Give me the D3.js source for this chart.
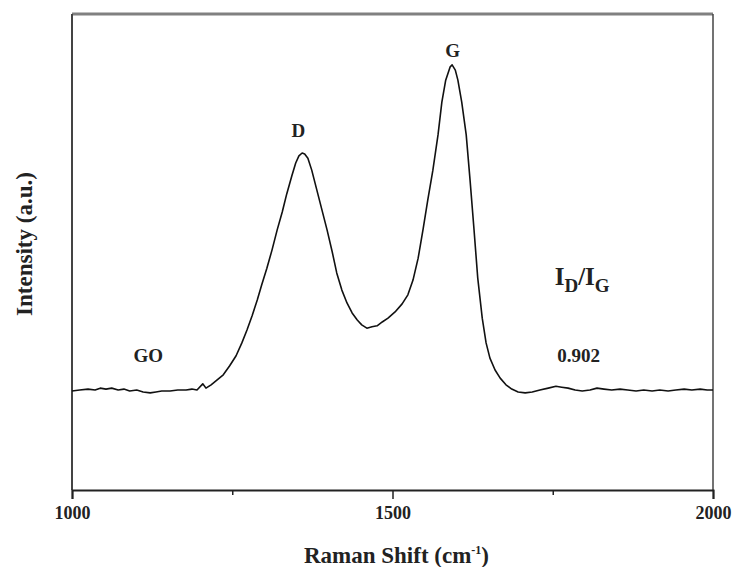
<!DOCTYPE html>
<html>
<head>
<meta charset="utf-8">
<script src="https://cdn.jsdelivr.net/npm/d3@7"></script>
<style>
  body { margin: 0; background: #fff; }
  text { font-family: "Liberation Serif", "DejaVu Serif", serif; font-weight: bold; }
</style>
</head>
<body>
<div id="my_dataviz"></div>
<script>
// Raman spectrum of GO
var shift = [1000,1012,1025,1036,1044,1053,1062,1072,1081,1090,1101,1111,1122,1131,1140,1153,1165,1178,1187,1195,
  1204,1209,1217,1226,1236,1246,1256,1265,1273,1281,1289,1296,1304,1312,1320,1328,1335,1343,1349,1354,
  1359,1363,1368,1374,1382,1390,1398,1406,1413,1421,1429,1437,1445,1452,1460,1468,1476,1484,1493,1504,
  1515,1524,1532,1540,1548,1555,1563,1571,1577,1583,1590,1593,1598,1602,1608,1615,1621,1627,1633,1640,
  1646,1652,1660,1668,1677,1686,1696,1707,1718,1730,1743,1755,1764,1774,1785,1796,1808,1819,1830,1842,
  1855,1867,1880,1892,1905,1917,1930,1942,1955,1967,1980,1991,2000];
var intensity = [208,210,212,210,214,212,214,210,212,208,210,206,204,206,208,208,210,210,212,210,
  223,214,221,231,242,261,282,309,336,366,399,431,466,504,546,584,622,660,687,702,
  708,706,697,672,630,588,546,500,456,420,393,372,357,347,340,343,345,353,361,374,
  391,410,441,487,550,609,672,746,815,861,889,893,882,861,815,746,651,550,445,361,
  309,277,252,235,221,212,206,204,206,210,214,218,216,214,210,208,210,214,212,210,
  212,210,208,210,208,210,208,210,212,210,212,210,210];

var xTicks = [1000, 1500, 2000];
var xMinorTicks = [1250, 1750];

// peak labels
var peakLabels = [
  {text: "D", x: 1353, y: 742},
  {text: "G", x: 1594, y: 910},
  {text: "GO", x: 1119, y: 269},
  {text: "0.902", x: 1757, y: 269}
];

var margin = {top: 14, right: 21, bottom: 77, left: 72},
    width = 734 - margin.left - margin.right,
    height = 567 - margin.top - margin.bottom;

var svg = d3.select("#my_dataviz")
            .append("svg")
              .attr("width", 734)
              .attr("height", 567)
            .append("g")
              .attr("transform", "translate(" + margin.left + "," + margin.top + ")");

var x = d3.scaleLinear().domain([1000, 2000]).range([0, width]);
var y = d3.scaleLinear().domain([0, 1000]).range([height, 0]);

var data = shift.map(function (s, i) { return {s: s, v: intensity[i]}; });

// frame: top (gray, thick), left, right
svg.append("line").attr("x1", 0).attr("x2", width).attr("y1", 0).attr("y2", 0)
   .attr("stroke", "#808080").attr("stroke-width", 3);
svg.append("line").attr("x1", 0).attr("x2", 0).attr("y1", 0).attr("y2", height)
   .attr("stroke", "#444").attr("stroke-width", 2);
svg.append("line").attr("x1", width).attr("x2", width).attr("y1", 0).attr("y2", height)
   .attr("stroke", "#444").attr("stroke-width", 1.5);

// x axis
var xAxis = svg.append("g")
   .attr("transform", "translate(0," + height + ")")
   .call(d3.axisBottom(x).tickValues(xTicks).tickSize(9).tickPadding(7).tickFormat(d3.format("d")));
xAxis.select(".domain").attr("stroke", "#222").attr("stroke-width", 2);
xAxis.selectAll(".tick line").attr("stroke", "#222").attr("stroke-width", 1.5);
xAxis.selectAll("text").style("font-size", "18px").attr("fill", "#222")
     .style("font-family", "'Liberation Serif', serif").style("font-weight", "bold");

svg.append("g").attr("transform", "translate(0," + height + ")")
   .call(d3.axisBottom(x).tickValues(xMinorTicks).tickSize(5).tickFormat(""))
   .call(function (g) { g.select(".domain").remove(); })
   .selectAll(".tick line").attr("stroke", "#222").attr("stroke-width", 1.5);

// spectrum
svg.append("path")
   .datum(data)
   .attr("fill", "none")
   .attr("stroke", "#111")
   .attr("stroke-width", 1.6)
   .attr("stroke-linejoin", "round")
   .attr("d", d3.line().x(function (d) { return x(d.s); }).y(function (d) { return y(d.v); }));

// labels
svg.selectAll(".peak")
   .data(peakLabels)
   .enter().append("text")
   .attr("x", function (d) { return x(d.x); })
   .attr("y", function (d) { return y(d.y); })
   .attr("text-anchor", function (d) { return d.text === "0.902" ? "start" : "middle"; })
   .style("font-size", "19px")
   .attr("fill", "#222")
   .text(function (d) { return d.text; });

var ratio = svg.append("text")
   .attr("x", x(1753))
   .attr("y", y(431))
   .style("font-size", "25px")
   .attr("fill", "#222");
ratio.append("tspan").text("I");
ratio.append("tspan").attr("dy", 7).style("font-size", "19px").text("D");
ratio.append("tspan").attr("dy", -7).text("/I");
ratio.append("tspan").attr("dy", 7).style("font-size", "19px").text("G");

// axis titles
var xt = svg.append("text")
   .attr("text-anchor", "middle")
   .attr("x", width / 2 + 4)
   .attr("y", height + 73)
   .style("font-size", "23px")
   .attr("fill", "#222");
xt.append("tspan").text("Raman Shift (cm");
xt.append("tspan").attr("dy", -9).style("font-size", "12px").text("-1");
xt.append("tspan").attr("dy", 9).text(")");

svg.append("text")
   .attr("text-anchor", "middle")
   .attr("transform", "rotate(-90)")
   .attr("x", -(244 - margin.top))
   .attr("y", -margin.left + 32)
   .style("font-size", "23px")
   .attr("fill", "#222")
   .text("Intensity (a.u.)");
</script>
</body>
</html>
